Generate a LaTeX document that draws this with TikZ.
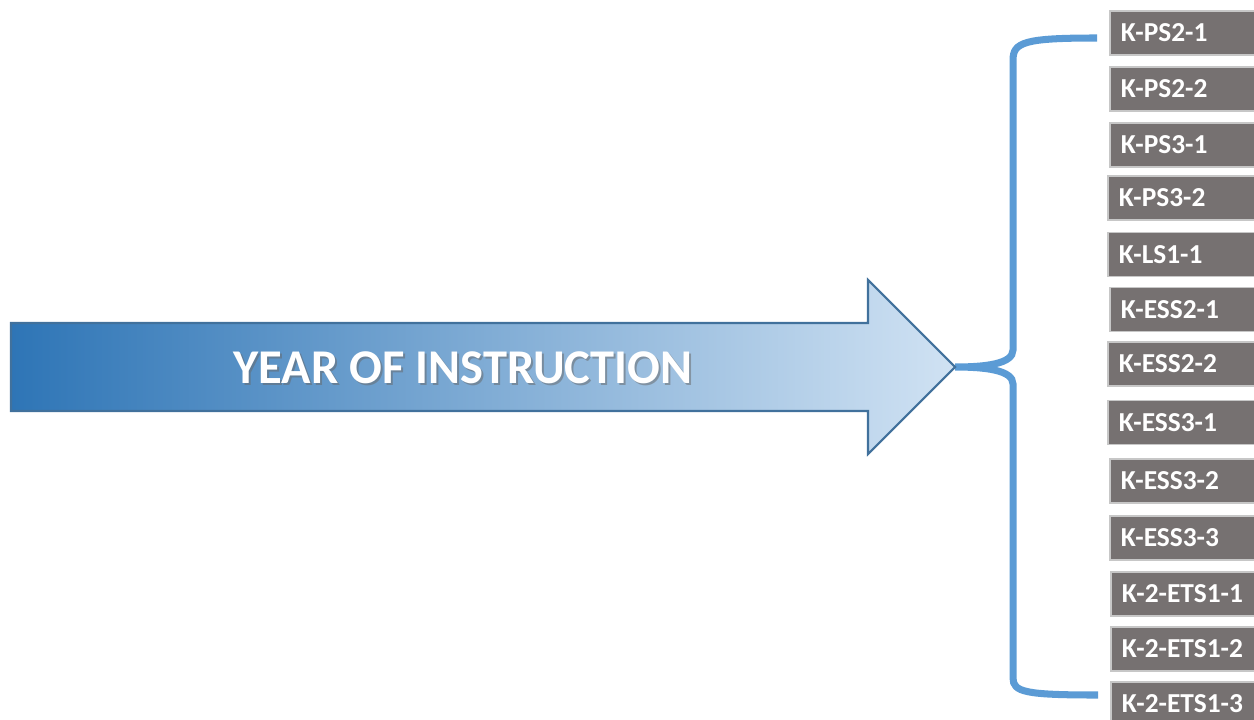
\documentclass[tikz,border=0pt]{standalone}
\usepackage{fontspec}
\setmainfont{Carlito}
\usetikzlibrary{positioning}
\definecolor{stdgray}{RGB}{118,113,113}
\definecolor{bracebl}{RGB}{91,155,213}
\definecolor{arrowdark}{RGB}{46,117,182}
\definecolor{arrowlight}{RGB}{208,226,243}
\definecolor{arrowedge}{RGB}{65,113,156}
\tikzset{
  stdbox/.style={draw=black!22,line width=0.5pt,fill=stdgray,text=white,
    font=\bfseries\fontsize{7.8}{9}\selectfont,text width=1.28cm,
    inner xsep=0.11cm,inner ysep=0pt,minimum height=0.44cm,anchor=west},
  bracepath/.style={bracebl,line width=2pt},
  titletext/.style={font=\bfseries\fontsize{13.8}{16}\selectfont}
}
\begin{document}
\begin{tikzpicture}
\useasboundingbox (0,0) rectangle (12.54,-7.19);
\coordinate (tip) at (9.55,-3.67);
% standards
\foreach \n/\x/\y/\t in {1/11.09/0.33/K-PS2-1, 2/11.09/0.89/K-PS2-2, 3/11.09/1.45/K-PS3-1,
  4/11.07/1.98/K-PS3-2, 5/11.07/2.545/K-LS1-1, 6/11.09/3.095/K-ESS2-1, 7/11.07/3.64/K-ESS2-2,
  8/11.07/4.225/K-ESS3-1, 9/11.09/4.81/K-ESS3-2, 10/11.09/5.38/K-ESS3-3,
  11/11.10/5.94/K-2-ETS1-1, 12/11.10/6.49/K-2-ETS1-2, 13/11.10/7.04/K-2-ETS1-3}
  \node (k\n) [stdbox] at (\x,-\y) {\t};
% brace
\draw[bracepath] ([xshift=-1.2mm,yshift=-0.5mm]k1.west) .. controls (10.25,-0.38) and (10.13,-0.42) .. (10.13,-0.6)
  -- (10.13,-3.50) .. controls (10.13,-3.64) and (9.85,-3.67) .. (tip)
  .. controls (9.85,-3.67) and (10.13,-3.70) .. (10.13,-3.84)
  -- (10.13,-6.78) .. controls (10.13,-6.92) and (10.25,-6.95) .. ([xshift=-1.2mm,yshift=0.9mm]k13.west);
% arrow
\shade[left color=arrowdark,right color=arrowlight,draw=arrowedge,line width=0.6pt]
  (0.11,-3.23) -- (8.68,-3.23) -- (8.68,-2.80) -- (tip) -- (8.68,-4.54) -- (8.68,-4.11) -- (0.11,-4.11) -- cycle;
\node[titletext,text=black!60,opacity=0.5] at (4.65,-3.70) {YEAR OF INSTRUCTION};
\node (title) [titletext,text=white] at (4.63,-3.675) {YEAR OF INSTRUCTION};
\end{tikzpicture}
\end{document}
